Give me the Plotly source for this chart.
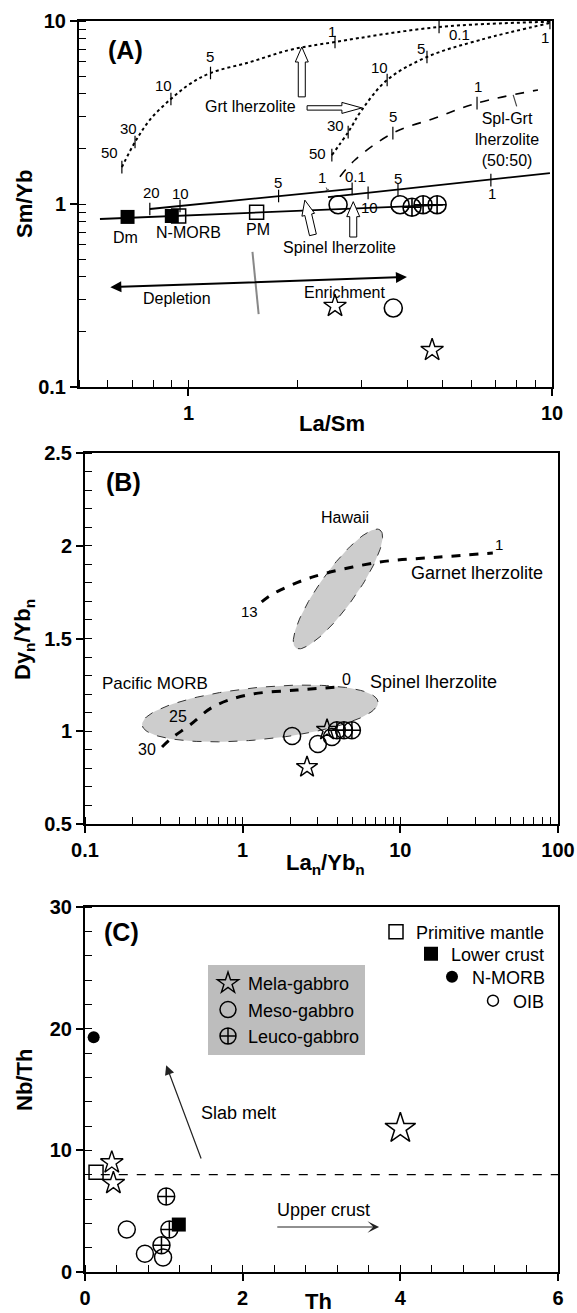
import numpy as np
import plotly.graph_objects as go

W, H = 577, 1313
FONT = "Liberation Sans, Arial, sans-serif"

# ======================= DATA =======================
# ---- Panel A : La/Sm vs Sm/Yb ----
A_MELA_X = [2.53, 4.68]
A_MELA_Y = [0.277, 0.159]
A_MESO_X = [2.58, 3.82, 3.66]
A_MESO_Y = [0.99, 0.99, 0.27]
A_LEUCO_X = [4.12, 4.42, 4.83]
A_LEUCO_Y = [0.96, 0.99, 0.99]
A_REF_FILLED_X = [0.68, 0.90]          # Dm, N-MORB
A_REF_FILLED_Y = [0.85, 0.86]
A_REF_OPEN_X = [0.94, 1.54]            # N-MORB, PM
A_REF_OPEN_Y = [0.86, 0.90]
A_REF_NAMES = ["Dm", "N-MORB", "PM"]
A_REF_NAME_X = [0.673, 1.0, 1.55]
A_REF_NAME_Y = [0.652, 0.695, 0.721]

# garnet lherzolite melting curves (dotted)
A_GRT1_X = [0.656, 0.713, 0.783, 0.895, 1.01, 1.15, 1.48, 1.90, 2.53, 4.89, 9.87]
A_GRT1_Y = [1.59, 2.18, 2.88, 3.75, 4.53, 5.20, 5.97, 6.95, 7.68, 9.27, 9.90]
A_GRT1_TICK_X = [0.656, 0.713, 0.895, 1.15, 2.53, 4.89]
A_GRT1_TICK_Y = [1.59, 2.18, 3.75, 5.20, 7.68, 9.27]
A_GRT1_TICK_LAB = ["50", "30", "10", "5", "1", "0.1"]

A_GRT2_X = [2.48, 2.75, 3.0, 3.52, 4.53, 6.33, 9.87]
A_GRT2_Y = [1.85, 2.47, 3.27, 4.76, 6.36, 7.87, 9.75]
A_GRT2_TICK_X = [2.48, 2.75, 3.52, 4.53, 9.87]
A_GRT2_TICK_Y = [1.85, 2.47, 4.76, 6.36, 9.75]
A_GRT2_TICK_LAB = ["50", "30", "10", "5", "1"]

# spinel-garnet lherzolite (dashed)
A_SG_X = [2.61, 2.87, 3.65, 4.77, 6.22, 9.15]
A_SG_Y = [1.41, 1.74, 2.44, 2.95, 3.56, 4.20]
A_SG_TICK_X = [3.65, 6.22]
A_SG_TICK_Y = [2.44, 3.56]
A_SG_TICK_LAB = ["5", "1"]

# spinel lherzolite melting lines (solid)
A_SPL_LOW_X = [0.571, 5.01]
A_SPL_LOW_Y = [0.828, 0.988]
A_SPL_UP_X = [0.783, 0.948, 1.77, 2.42, 2.82]
A_SPL_UP_Y = [0.939, 0.975, 1.106, 1.17, 1.21]
A_SPL_UP_TICK_X = [0.783, 0.948, 1.77, 2.82]
A_SPL_UP_TICK_Y = [0.939, 0.975, 1.106, 1.21]
A_SPL_UP_TICK_LAB = ["20", "10", "5", "0.1"]
A_SPL_PM_X = [2.42, 9.87]
A_SPL_PM_Y = [1.09, 1.475]
A_SPL_PM_TICK_X = [3.12, 3.77, 6.79]
A_SPL_PM_TICK_Y = [1.15, 1.19, 1.35]
A_SPL_PM_TICK_LAB = ["10", "5", "1"]

A_DEPL_X = [0.604, 3.99]
A_DEPL_Y = [0.351, 0.399]
A_DIVIDER_X = [1.50, 1.56]
A_DIVIDER_Y = [0.547, 0.250]

# ---- Panel B : La_n/Yb_n vs Dy_n/Yb_n ----
B_MELA_X = [2.56, 3.43]
B_MELA_Y = [0.807, 1.007]
B_MESO_X = [2.06, 3.00, 3.68]
B_MESO_Y = [0.974, 0.931, 0.969]
B_LEUCO_X = [3.96, 4.39, 4.93]
B_LEUCO_Y = [1.005, 1.005, 1.005]
B_GRT_X = [1.32, 1.45, 1.73, 2.79, 7.43, 17.8, 38.6]
B_GRT_Y = [1.697, 1.724, 1.761, 1.832, 1.912, 1.939, 1.961]
B_SPL_X = [0.308, 0.356, 0.463, 0.648, 1.06, 2.21, 4.14]
B_SPL_Y = [0.915, 0.964, 1.034, 1.131, 1.195, 1.222, 1.239]
# fields: centre (x, y) and two conjugate semi-diameters in (log10 x, y)
HAWAII = dict(c=(4.02, 1.767), a=(0.267, 0.318), b=(0.094, -0.0555))
PAC_MORB = dict(c=(1.29, 1.096), a=(0.748, 0.062), b=(-0.016, 0.140))

# ---- Panel C : Th vs Nb/Th ----
C_MELA_X = [0.34, 0.36]
C_MELA_Y = [9.0, 7.3]
C_MELA_BIG_X = [4.0]
C_MELA_BIG_Y = [11.8]
C_MESO_X = [0.53, 0.76, 0.99]
C_MESO_Y = [3.5, 1.5, 1.2]
C_LEUCO_X = [1.03, 0.97, 1.07]
C_LEUCO_Y = [6.2, 2.2, 3.5]
C_PM_X, C_PM_Y = [0.14], [8.2]
C_LC_X, C_LC_Y = [1.19], [3.9]
C_NMORB_X, C_NMORB_Y = [0.11], [19.3]
C_REF_LINE_X = [0.2, 6.0]
C_REF_LINE_Y = [8.0, 8.0]

# ======================= GEOMETRY =======================
PANELS = {
    "A": dict(xd=(79, 552), yd=(21, 387), xr=(np.log10(0.5), 1.0), yr=(-1.0, 1.0), xlog=True, ylog=True, ax=("x", "y")),
    "B": dict(xd=(85, 558), yd=(453, 824), xr=(-1.0, 2.0), yr=(0.5, 2.5), xlog=True, ylog=False, ax=("x2", "y2")),
    "C": dict(xd=(85, 558), yd=(907, 1272), xr=(0.0, 6.0), yr=(0.0, 30.0), xlog=False, ylog=False, ax=("x3", "y3")),
}


def axval(p, x, y):
    P = PANELS[p]
    return (np.log10(x) if P["xlog"] else x), (np.log10(y) if P["ylog"] else y)


def to_px(p, x, y):
    P = PANELS[p]
    vx, vy = axval(p, x, y)
    fx = (vx - P["xr"][0]) / (P["xr"][1] - P["xr"][0])
    fy = (vy - P["yr"][0]) / (P["yr"][1] - P["yr"][0])
    return P["xd"][0] + fx * (P["xd"][1] - P["xd"][0]), P["yd"][1] - fy * (P["yd"][1] - P["yd"][0])


fig = go.Figure()


def sc(p, x, y, **kw):
    xa, ya = PANELS[p]["ax"]
    kw.setdefault("showlegend", False)
    fig.add_trace(go.Scatter(x=x, y=y, xaxis=xa, yaxis=ya, hoverinfo="skip", **kw))


annots = []
shapes = []


def ann(p, x, y, text, size=16, dx=0, dy=0, bold=False, **kw):
    xa, ya = PANELS[p]["ax"]
    vx, vy = axval(p, x, y)
    d = dict(xref=xa, yref=ya, x=vx, y=vy, text=text, showarrow=False,
             xshift=dx, yshift=dy, xanchor="center", yanchor="middle",
             font=dict(family=FONT, size=size, color="black", weight="bold" if bold else "normal"))
    d.update(kw)
    annots.append(d)


def paper_text(px, py, text, size, bold=True, angle=0):
    annots.append(dict(xref="paper", yref="paper", x=px / W, y=1 - py / H, text=text,
                       showarrow=False, textangle=angle, xanchor="center", yanchor="middle",
                       font=dict(family=FONT, size=size, color="black", weight="bold" if bold else "normal")))


def block_arrow(p, tail, tip, shaft=3.5, head=6.5, hlen=14):
    x0, y0 = to_px(p, *tail)
    x1, y1 = to_px(p, *tip)
    d = np.array([x1 - x0, y1 - y0])
    u = d / np.hypot(*d)
    n = np.array([-u[1], u[0]])
    T, P = np.array([x0, y0]), np.array([x1, y1])
    B = P - u * hlen
    pts = [T + n * shaft, B + n * shaft, B + n * head, P, B - n * head, B - n * shaft, T - n * shaft]
    path = "M " + " L ".join(f"{x / W:.5f},{1 - y / H:.5f}" for x, y in pts) + " Z"
    shapes.append(dict(type="path", xref="paper", yref="paper", path=path,
                       fillcolor="white", line=dict(color="black", width=1), layer="above"))


TICKMARK = dict(symbol="line-ns", size=9, line=dict(width=1.2, color="black"))

# ======================= PANEL A =======================
sc("A", A_GRT1_X, A_GRT1_Y, mode="lines", line=dict(color="black", width=2, dash="dot", shape="spline"))
sc("A", A_GRT2_X, A_GRT2_Y, mode="lines", line=dict(color="black", width=2, dash="dot", shape="spline"))
sc("A", A_SG_X, A_SG_Y, mode="lines", line=dict(color="black", width=1.6, dash="dash", shape="spline"))
sc("A", A_SPL_LOW_X, A_SPL_LOW_Y, mode="lines", line=dict(color="black", width=1.8))
sc("A", A_SPL_UP_X, A_SPL_UP_Y, mode="lines", line=dict(color="black", width=1.8))
sc("A", A_SPL_PM_X, A_SPL_PM_Y, mode="lines", line=dict(color="black", width=1.8))
sc("A", A_DIVIDER_X, A_DIVIDER_Y, mode="lines", line=dict(color="#888888", width=2))
for tx, ty in [(A_GRT1_TICK_X, A_GRT1_TICK_Y), (A_GRT2_TICK_X, A_GRT2_TICK_Y), (A_SG_TICK_X, A_SG_TICK_Y),
               (A_SPL_UP_TICK_X, A_SPL_UP_TICK_Y), (A_SPL_PM_TICK_X, A_SPL_PM_TICK_Y)]:
    sc("A", tx, ty, mode="markers", marker=TICKMARK)

sc("A", A_REF_FILLED_X, A_REF_FILLED_Y, mode="markers",
   marker=dict(symbol="square", size=14, color="black"))
sc("A", A_REF_OPEN_X, A_REF_OPEN_Y, mode="markers",
   marker=dict(symbol="square-open", size=14, color="black", line=dict(width=1.5)))
sc("A", A_MESO_X, A_MESO_Y, mode="markers",
   marker=dict(symbol="circle-open", size=18, color="black", line=dict(width=1.6)))
sc("A", A_LEUCO_X, A_LEUCO_Y, mode="markers",
   marker=dict(symbol="circle-cross-open", size=18, color="black", line=dict(width=1.6)))
sc("A", A_MELA_X, A_MELA_Y, mode="markers",
   marker=dict(symbol="star-open", size=17, color="black", line=dict(width=1.4)))

# curve labels (offsets in px)
for xs, ys, labs, offs in [
    (A_GRT1_TICK_X, A_GRT1_TICK_Y, A_GRT1_TICK_LAB, [(-12, 15), (-7, 14), (-7, 13), (-1, 16), (-3, 10), (20, -7)]),
    (A_GRT2_TICK_X, A_GRT2_TICK_Y, A_GRT2_TICK_LAB, [(-14, 2), (-13, 7), (-8, 12), (-6, 8), (-5, -14)]),
    (A_SG_TICK_X, A_SG_TICK_Y, A_SG_TICK_LAB, [(0, 17), (1, 17)]),
    (A_SPL_UP_TICK_X, A_SPL_UP_TICK_Y, A_SPL_UP_TICK_LAB, [(2, 16), (0, 13), (-1, 13), (3, 12)]),
    (A_SPL_PM_TICK_X, A_SPL_PM_TICK_Y, A_SPL_PM_TICK_LAB, [(1, -15), (0, 12), (1, -13)]),
]:
    for x, y, t, (dx, dy) in zip(xs, ys, labs, offs):
        ann("A", x, y, t, size=15, dx=dx, dy=dy)

# "1" with small arrow on upper spinel line
vx, vy = axval("A", 2.42, 1.17)
annots.append(dict(xref="x", yref="y", x=vx, y=vy, text="1", showarrow=True, arrowhead=1,
                   arrowsize=0.7, arrowwidth=1, ax=-6, ay=-14, standoff=0,
                   font=dict(family=FONT, size=15, color="black")))
# leader to Spl-Grt label
vx, vy = axval("A", 7.82, 3.95)
annots.append(dict(xref="x", yref="y", x=vx, y=vy, text="", showarrow=True, arrowhead=0,
                   arrowwidth=1.2, ax=4, ay=13))

for n, x, y in zip(A_REF_NAMES, A_REF_NAME_X, A_REF_NAME_Y):
    ann("A", x, y, n, size=16)
ann("A", 1.48, 3.43, "Grt lherzolite", size=16)
ann("A", 7.52, 2.24, "Spl-Grt<br>lherzolite<br>(50:50)", size=16)
ann("A", 2.60, 0.582, "Spinel lherzolite", size=16)
ann("A", 0.93, 0.303, "Depletion", size=16)
ann("A", 2.68, 0.330, "Enrichment", size=16)

# depletion / enrichment double arrow
vx0, vy0 = axval("A", A_DEPL_X[0], A_DEPL_Y[0])
vx1, vy1 = axval("A", A_DEPL_X[1], A_DEPL_Y[1])
annots.append(dict(xref="x", yref="y", axref="x", ayref="y", x=vx1, y=vy1, ax=vx0, ay=vy0,
                   text="", showarrow=True, arrowhead=2, arrowside="end+start",
                   arrowsize=1.1, arrowwidth=2, arrowcolor="black", standoff=0, startstandoff=0))

# hollow block arrows
block_arrow("A", (2.05, 3.85), (2.05, 7.21), shaft=3.5, head=6.5, hlen=15)
block_arrow("A", (2.12, 3.35), (3.0, 3.35), shaft=2.2, head=5.5, hlen=20)
block_arrow("A", (2.20, 0.678), (2.09, 1.05), shaft=3.5, head=6.5, hlen=15)
block_arrow("A", (2.84, 0.66), (2.84, 1.03), shaft=3.5, head=6.5, hlen=15)

# ======================= PANEL B =======================
for f in (PAC_MORB, HAWAII):
    t = np.linspace(0, 2 * np.pi, 120)
    lx = np.log10(f["c"][0]) + f["a"][0] * np.cos(t) + f["b"][0] * np.sin(t)
    ly = f["c"][1] + f["a"][1] * np.cos(t) + f["b"][1] * np.sin(t)
    sc("B", 10 ** lx, ly, mode="lines", fill="toself", fillcolor="#cdcdcd",
       line=dict(color="#333333", width=1, dash="dash"))
sc("B", B_GRT_X, B_GRT_Y, mode="lines", line=dict(color="black", width=3, dash="dash", shape="spline"))
sc("B", B_SPL_X, B_SPL_Y, mode="lines", line=dict(color="black", width=3, dash="dash", shape="spline"))
sc("B", B_MESO_X, B_MESO_Y, mode="markers",
   marker=dict(symbol="circle-open", size=17, color="black", line=dict(width=1.5)))
sc("B", B_LEUCO_X, B_LEUCO_Y, mode="markers",
   marker=dict(symbol="circle-cross-open", size=17, color="black", line=dict(width=1.5)))
sc("B", B_MELA_X, B_MELA_Y, mode="markers",
   marker=dict(symbol="star-open", size=16, color="black", line=dict(width=1.4)))

ann("B", B_GRT_X[0], B_GRT_Y[0], "13", size=15, dx=-12, dy=-10)
ann("B", B_GRT_X[-1], B_GRT_Y[-1], "1", size=15, dx=6, dy=8)
ann("B", B_SPL_X[0], B_SPL_Y[0], "30", size=16, dx=-15, dy=-2)
ann("B", B_SPL_X[2], B_SPL_Y[2], "25", size=16, dx=-12, dy=8)
ann("B", B_SPL_X[-1], B_SPL_Y[-1], "0", size=16, dx=7, dy=7)
ann("B", 4.46, 2.150, "Hawaii", size=16)
ann("B", 30.6, 1.853, "Garnet lherzolite", size=18)
ann("B", 0.278, 1.260, "Pacific MORB", size=17)
ann("B", 16.3, 1.265, "Spinel lherzolite", size=18)

# ======================= PANEL C =======================
sc("C", C_REF_LINE_X, C_REF_LINE_Y, mode="lines", line=dict(color="black", width=1.2, dash="dash"))
sc("C", C_MESO_X, C_MESO_Y, mode="markers", name="Meso-gabbro", showlegend=True, legend="legend",
   legendgroup="g2", legendrank=2,
   marker=dict(symbol="circle-open", size=17, color="black", line=dict(width=1.5)))
sc("C", C_LEUCO_X, C_LEUCO_Y, mode="markers", name="Leuco-gabbro", showlegend=True, legend="legend",
   legendgroup="g3", legendrank=3,
   marker=dict(symbol="circle-cross-open", size=17, color="black", line=dict(width=1.5)))
sc("C", C_MELA_X, C_MELA_Y, mode="markers", name="Mela-gabbro", showlegend=True, legend="legend",
   legendgroup="g1", legendrank=1,
   marker=dict(symbol="star-open", size=17, color="black", line=dict(width=1.4)))
sc("C", C_MELA_BIG_X, C_MELA_BIG_Y, mode="markers",
   marker=dict(symbol="star-open", size=23, color="black", line=dict(width=1.5)))
sc("C", C_PM_X, C_PM_Y, mode="markers", name="Primitive mantle", showlegend=True, legend="legend2",
   marker=dict(symbol="square-open", size=14, color="black", line=dict(width=1.5)))
sc("C", C_LC_X, C_LC_Y, mode="markers", name="Lower crust", showlegend=True, legend="legend3",
   marker=dict(symbol="square", size=14, color="black"))
sc("C", C_NMORB_X, C_NMORB_Y, mode="markers", name="N-MORB", showlegend=True, legend="legend4",
   marker=dict(symbol="circle", size=12, color="black"))
sc("C", [None], [None], mode="markers", name="OIB", showlegend=True, legend="legend5",
   marker=dict(symbol="circle-open", size=11, color="black", line=dict(width=1.5)))

ann("C", 1.95, 13.1, "Slab melt", size=18)
ann("C", 3.03, 5.1, "Upper crust", size=18)
annots.append(dict(xref="x3", yref="y3", axref="x3", ayref="y3", x=1.03, y=17.0, ax=1.48, ay=9.2,
                   text="", showarrow=True, arrowhead=2, arrowsize=1.6, arrowwidth=1.2,
                   arrowcolor="#222222", standoff=0))
annots.append(dict(xref="x3", yref="y3", axref="x3", ayref="y3", x=3.73, y=3.7, ax=2.42, ay=3.7,
                   text="", showarrow=True, arrowhead=3, arrowsize=1.6, arrowwidth=1.2,
                   arrowcolor="#222222", standoff=0))

# ======================= TITLES =======================
paper_text(125, 50, "(A)", 25)
paper_text(123, 482, "(B)", 25)
paper_text(121, 932, "(C)", 25)
paper_text(24, 204, "Sm/Yb", 22, angle=-90)
paper_text(332, 423, "La/Sm", 22)
paper_text(24, 640, "Dy<sub>n</sub>/Yb<sub>n</sub>", 22, angle=-90)
paper_text(325, 864, "La<sub>n</sub>/Yb<sub>n</sub>", 22)
paper_text(24, 1080, "Nb/Th", 22, angle=-90)
paper_text(318, 1301, "Th", 22)


# ======================= AXES =======================
def axdef(p, which, dtick, minor_dtick):
    P = PANELS[p]
    if which == "x":
        dom = [P["xd"][0] / W, P["xd"][1] / W]
        rng = list(P["xr"])
        typ = "log" if P["xlog"] else "linear"
        anchor = P["ax"][1]
    else:
        dom = [1 - P["yd"][1] / H, 1 - P["yd"][0] / H]
        rng = list(P["yr"])
        typ = "log" if P["ylog"] else "linear"
        anchor = P["ax"][0]
    return dict(domain=dom, range=rng, type=typ, anchor=anchor, tickmode="linear", tick0=0, dtick=dtick,
                showline=True, linewidth=2, linecolor="black", mirror=True,
                ticks="outside", ticklen=7, tickwidth=1.5, tickcolor="black",
                showgrid=False, zeroline=False, automargin=False, fixedrange=True,
                tickfont=dict(family=FONT, size=20, color="black", weight="bold"),
                minor=dict(dtick=minor_dtick, ticks="inside", ticklen=7, tickwidth=1.2,
                           tickcolor="black", showgrid=False))


legend_font = dict(family=FONT, size=18, color="black")
right_leg = lambda yy: dict(x=550 / W, y=1 - yy / H, xanchor="right", yanchor="middle",
                            bgcolor="rgba(0,0,0,0)", font=legend_font, itemsizing="trace")

fig.update_layout(
    width=W, height=H, autosize=False, template="none",
    margin=dict(l=0, r=0, t=0, b=0, pad=0),
    paper_bgcolor="white", plot_bgcolor="white",
    font=dict(family=FONT, color="black"),
    xaxis=axdef("A", "x", 1, "D1"), yaxis=axdef("A", "y", 1, "D1"),
    xaxis2=axdef("B", "x", 1, "D1"), yaxis2=axdef("B", "y", 0.5, 0.1),
    xaxis3=axdef("C", "x", 2, 0.4), yaxis3=axdef("C", "y", 10, 2),
    showlegend=True,
    legend=dict(x=208 / W, y=1 - 965 / H, xanchor="left", yanchor="top", bgcolor="#bdbdbd",
                font=legend_font, tracegroupgap=0, itemsizing="trace", traceorder="grouped"),
    legend2=right_leg(932), legend3=right_leg(954), legend4=right_leg(977), legend5=right_leg(1001),
    annotations=annots, shapes=shapes,
)

fig.write_html("out.html")
